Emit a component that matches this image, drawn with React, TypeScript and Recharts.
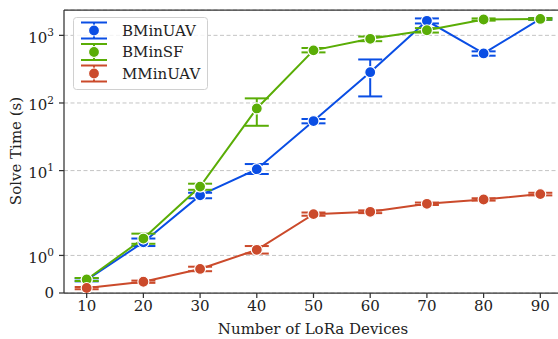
import React from "react";
import {
  LineChart,
  Line,
  XAxis,
  YAxis,
  CartesianGrid,
  ErrorBar,
  ReferenceLine,
  Legend,
} from "recharts";

const devices = [10, 20, 30, 40, 50, 60, 70, 80, 90];

const bminUav = [0.35, 1.35, 4.3, 10.5, 54, 285, 1640, 540, 1750];
const bminUavLow = [0.31, 1.25, 3.9, 8.9, 50, 125, 1500, 500, 1700];
const bminUavHigh = [0.39, 1.45, 4.7, 12.5, 58, 440, 1780, 580, 1800];

const bminSf = [0.36, 1.45, 5.8, 83, 600, 890, 1190, 1715, 1750];
const bminSfLow = [0.32, 1.31, 5.2, 46, 560, 820, 1100, 1650, 1700];
const bminSfHigh = [0.4, 1.58, 6.4, 117, 650, 960, 1280, 1780, 1800];

const mminUav = [0.133, 0.3, 0.64, 1.15, 2.27, 2.46, 3.23, 3.74, 4.49];
const mminUavLow = [0.1, 0.27, 0.58, 1.05, 2.15, 2.35, 3.1, 3.6, 4.3];
const mminUavHigh = [0.16, 0.33, 0.7, 1.25, 2.4, 2.58, 3.37, 3.9, 4.7];

const yTickValues = [0, 1, 10, 100, 1000];
const xTickValues = [10, 20, 30, 40, 50, 60, 70, 80, 90];

const seriesNames = ["BMinUAV", "BMinSF", "MMinUAV"];
const seriesColors = ["#0a4ee4", "#5aad06", "#cb4a2b"];

const FONT = "DejaVu Serif, serif";

// symlog, linthresh 2, linscale 1 (matplotlib style)
const LINTHRESH = 2;
const LINSCALE = 1 / (1 - 1 / 10);
const symlog = (v: number) =>
  v <= LINTHRESH ? (v / LINTHRESH) * LINSCALE : LINSCALE + Math.log10(v / LINTHRESH);

const row = (vals: number[], lo: number[], hi: number[], i: number) => {
  const t = symlog(vals[i]);
  return { v: t, err: [t - symlog(lo[i]), symlog(hi[i]) - t] };
};

const data = devices.map((x, i) => {
  const a = row(bminUav, bminUavLow, bminUavHigh, i);
  const b = row(bminSf, bminSfLow, bminSfHigh, i);
  const c = row(mminUav, mminUavLow, mminUavHigh, i);
  return { x, a: a.v, aErr: a.err, b: b.v, bErr: b.err, c: c.v, cErr: c.err };
});

const Y_MAX = 4.185;

function YTick({ x, y, payload }: any) {
  const raw = yTickValues.find((v) => Math.abs(symlog(v) - payload.value) < 1e-6) ?? 0;
  if (raw === 0) {
    return (
      <text x={x} y={y} dy="0.355em" textAnchor="end" fontFamily={FONT} fontSize={15} fill="#222">
        0
      </text>
    );
  }
  const exp = Math.round(Math.log10(raw));
  return (
    <text x={x} y={y} dy="0.5em" textAnchor="end" fontFamily={FONT} fontSize={15} fill="#222">
      10
      <tspan fontSize={10.5} dy="-0.65em">
        {exp}
      </tspan>
    </text>
  );
}

function LegendBox() {
  return (
    <svg width={136} height={74} style={{ display: "block" }}>
      <rect x={0.5} y={0.5} width={134} height={72} rx={3} fill="#fff" fillOpacity={0.8} stroke="#d0d0d0" />
      {seriesNames.map((name, i) => {
        const cy = 13.5 + i * 21.5;
        const col = seriesColors[i];
        return (
          <g key={name}>
            <line x1={8} x2={34} y1={cy - 8} y2={cy - 8} stroke={col} strokeWidth={2} />
            <line x1={8} x2={34} y1={cy + 8} y2={cy + 8} stroke={col} strokeWidth={2} />
            <line x1={21} x2={21} y1={cy - 8} y2={cy + 8} stroke={col} strokeWidth={2} />
            <circle cx={21} cy={cy} r={5.5} fill={col} stroke="#fff" strokeWidth={1.2} />
            <text x={49} y={cy} dy="0.36em" fontFamily={FONT} fontSize={15} fill="#222">
              {name}
            </text>
          </g>
        );
      })}
    </svg>
  );
}

export default function App() {
  const keys = ["a", "b", "c"];
  return (
    <div style={{ position: "absolute", left: 0, top: 0, width: 558, height: 339, overflow: "hidden", background: "#fff" }}>
      <LineChart width={566} height={339} data={data} margin={{ top: 10, right: 3, bottom: 16, left: 8 }}>
        <CartesianGrid vertical={false} stroke="#c4c4c4" strokeDasharray="4 2.5" />
        <XAxis
          dataKey="x"
          type="number"
          domain={[6, 94]}
          ticks={xTickValues}
          height={30}
          tickSize={5}
          tickMargin={2}
          stroke="#333"
          strokeWidth={1.25}
          tick={{ fontFamily: FONT, fontSize: 15, fill: "#222" }}
          label={{
            content: () => (
              <text x={313} y={334} textAnchor="middle" fontFamily={FONT} fontSize={15} fill="#222">
                Number of LoRa Devices
              </text>
            ),
          }}
        />
        <YAxis
          type="number"
          domain={[0, Y_MAX]}
          ticks={yTickValues.map(symlog)}
          width={56}
          tickSize={5}
          tickMargin={5}
          stroke="#333"
          strokeWidth={1.25}
          allowDataOverflow
          tick={<YTick />}
          label={{
            content: () => (
              <text
                x={21}
                y={151}
                textAnchor="middle"
                transform="rotate(-90 21 151)"
                fontFamily={FONT}
                fontSize={15}
                fill="#222"
              >
                Solve Time (s)
              </text>
            ),
          }}
        />
        <ReferenceLine y={Y_MAX} stroke="#333" strokeWidth={1.25} />
        {keys.map((k, i) => (
          <Line
            key={k}
            type="linear"
            dataKey={k}
            name={seriesNames[i]}
            stroke={seriesColors[i]}
            strokeWidth={2}
            isAnimationActive={false}
            dot={{ r: 5.5, fill: seriesColors[i], stroke: "#fff", strokeWidth: 1.2 }}
            activeDot={false}
          >
            <ErrorBar dataKey={k + "Err"} width={12} stroke={seriesColors[i]} strokeWidth={2} direction="y" />
          </Line>
        ))}
        <Legend
          layout="horizontal"
          verticalAlign="middle"
          align="center"
          content={() => <LegendBox />}
          wrapperStyle={{ position: "absolute", left: 73, top: 17, width: 136, height: 74 }}
        />
      </LineChart>
    </div>
  );
}
